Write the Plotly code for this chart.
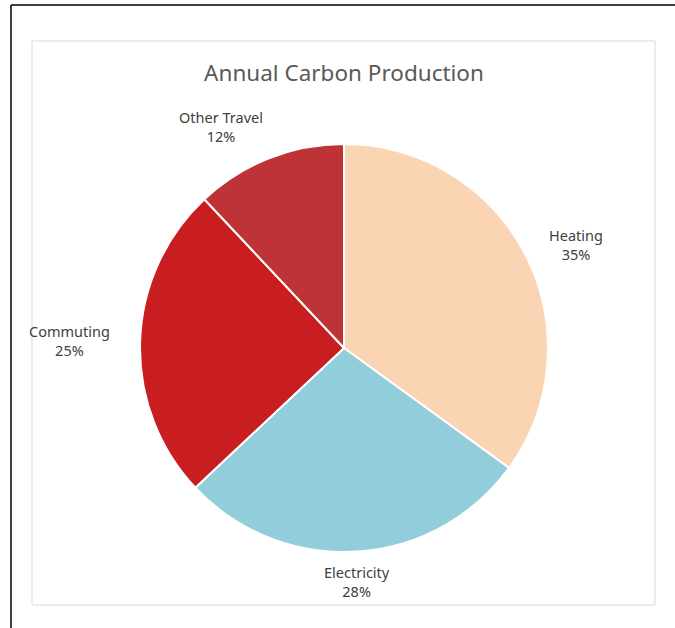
import math
import plotly.graph_objects as go

categories = ["Heating", "Electricity", "Commuting", "Other Travel"]
values = [35, 28, 25, 12]
colors = ["#FBD4B4", "#92CDDC", "#C91E1F", "#BE3336"]
title_text = "Annual Carbon Production"

W, H = 675, 628
cx, cy, r = 344, 348, 204  # pie centre/radius in pixels (layout)
font_family = "Noto Sans, Open Sans, sans-serif"

dom_x = [(cx - r) / W, (cx + r) / W]
dom_y = [(H - cy - r) / H, (H - cy + r) / H]

fig = go.Figure(go.Pie(
    labels=categories, values=values, sort=False, direction="clockwise",
    rotation=0, marker=dict(colors=colors, line=dict(color="white", width=2)),
    textinfo="none", hoverinfo="label+percent", domain=dict(x=dom_x, y=dom_y),
    showlegend=False,
))

total = sum(values)
cum = 0
annotations = []
for cat, v in zip(categories, values):
    mid = (cum + v / 2) / total * 2 * math.pi
    cum += v
    s, c = math.sin(mid), math.cos(mid)
    gap = 8 + 20 * s * s
    px = cx + (r + gap) * s
    py = cy - (r + gap) * c
    xa = "center" if abs(s) < 0.3 else ("left" if s > 0 else "right")
    ya = "middle" if abs(c) < 0.5 else ("bottom" if c > 0 else "top")
    pct = round(v / total * 100)
    annotations.append(dict(
        x=px / W, y=1 - py / H, xref="paper", yref="paper",
        text=f"{cat}<br>{pct}%", showarrow=False, xanchor=xa, yanchor=ya,
        align="center", font=dict(family=font_family, size=14.5, color="#404040"),
    ))

shapes = [
    dict(type="rect", xref="paper", yref="paper", x0=32 / W, x1=655 / W,
         y0=1 - 605 / H, y1=1 - 41 / H, line=dict(color="#D9D9D9", width=1)),
    dict(type="line", xref="paper", yref="paper", x0=11 / W, x1=11 / W,
         y0=0, y1=1 - 5 / H, line=dict(color="black", width=1.5)),
    dict(type="line", xref="paper", yref="paper", x0=11 / W, x1=1,
         y0=1 - 5 / H, y1=1 - 5 / H, line=dict(color="black", width=1.5)),
]

fig.update_layout(
    width=W, height=H, margin=dict(l=0, r=0, t=0, b=0),
    paper_bgcolor="white", plot_bgcolor="white",
    title=dict(text=title_text, x=cx / W, xanchor="center", y=1 - 73 / H,
               yanchor="middle", font=dict(family=font_family, size=22.5, color="#595959")),
    annotations=annotations, shapes=shapes,
)

fig.write_html(
    "out.html",
    config={"displayModeBar": False},
    post_script="document.body.style.margin='0';document.body.style.overflow='hidden';",
)
